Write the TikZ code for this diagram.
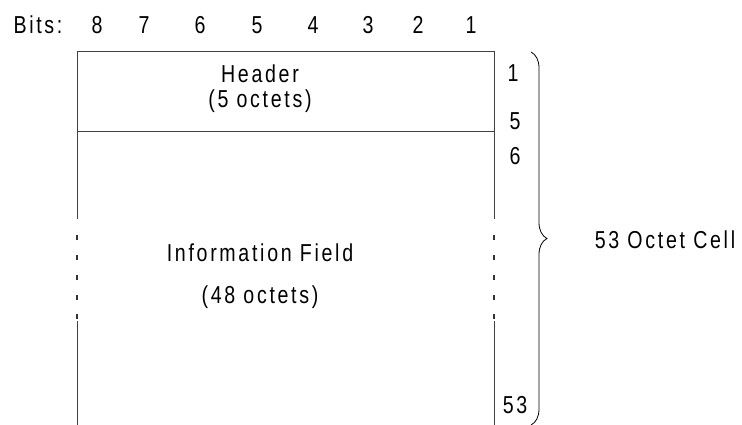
\documentclass[tikz,border=0pt]{standalone}
\usepackage{fontspec}
\setmainfont{Liberation Sans}[FakeStretch=0.8,LetterSpace=11]
\usetikzlibrary{decorations.pathreplacing}
\begin{document}
\begin{tikzpicture}[x=1pt,y=-1pt,
  lbl/.style={inner sep=0pt,font=\fontsize{24.5}{27}\selectfont},
  frame/.style={line width=0.9pt,draw=black!75},
  dotseg/.style={line width=1.2pt,draw=black!80}]
\useasboundingbox (0,0) rectangle (742,425);
% bit labels
\node[lbl] (bits) at (38,25) {Bits:};
\node[lbl] (b8) at (97,25) {8};
\node[lbl] (b7) at (144,25) {7};
\node[lbl] (b6) at (200,25) {6};
\node[lbl] (b5) at (257,25) {5};
\node[lbl] (b4) at (313,25) {4};
\node[lbl] (b3) at (368,25) {3};
\node[lbl] (b2) at (418,25) {2};
\node[lbl] (b1) at (471,25) {1};
% frame
\coordinate (tl) at (77,51);
\coordinate (tr) at (494,51);
\draw[frame] (77,219) -- (tl) -- (tr) -- (494,219);
\draw[frame] (77,131) -- (494,131);
\draw[frame] (77,321) -- (77,425);
\draw[frame] (494,321) -- (494,425);
\foreach \y in {235,255,275,295,314}{
  \draw[dotseg] (77,\y) -- (77,\y+4.5);
  \draw[dotseg] (494,\y) -- (494,\y+4.5);
}
% texts
\node[lbl] (hdr) at (260,74) {Header};
\node[lbl] (hdro) at (260,101) {(5 octets)};
\node[lbl] (inf) at (260,253) {Information Field};
\node[lbl] (info) at (260,297) {(48 octets)};
% octet numbers
\node[lbl] (o1) at (513,73) {1};
\node[lbl] (o5) at (515,121) {5};
\node[lbl] (o6) at (515,156) {6};
\node[lbl] (o53) at (515,405) {53};
% brace
\coordinate (bt) at (531,52);
\coordinate (bb) at (531,425);
\draw[line width=0.8pt,decorate,decoration={brace,amplitude=16pt}] (bt) -- (bb);
\node[lbl] (cell) at (665,240) {53 Octet Cell};
\end{tikzpicture}
\end{document}
